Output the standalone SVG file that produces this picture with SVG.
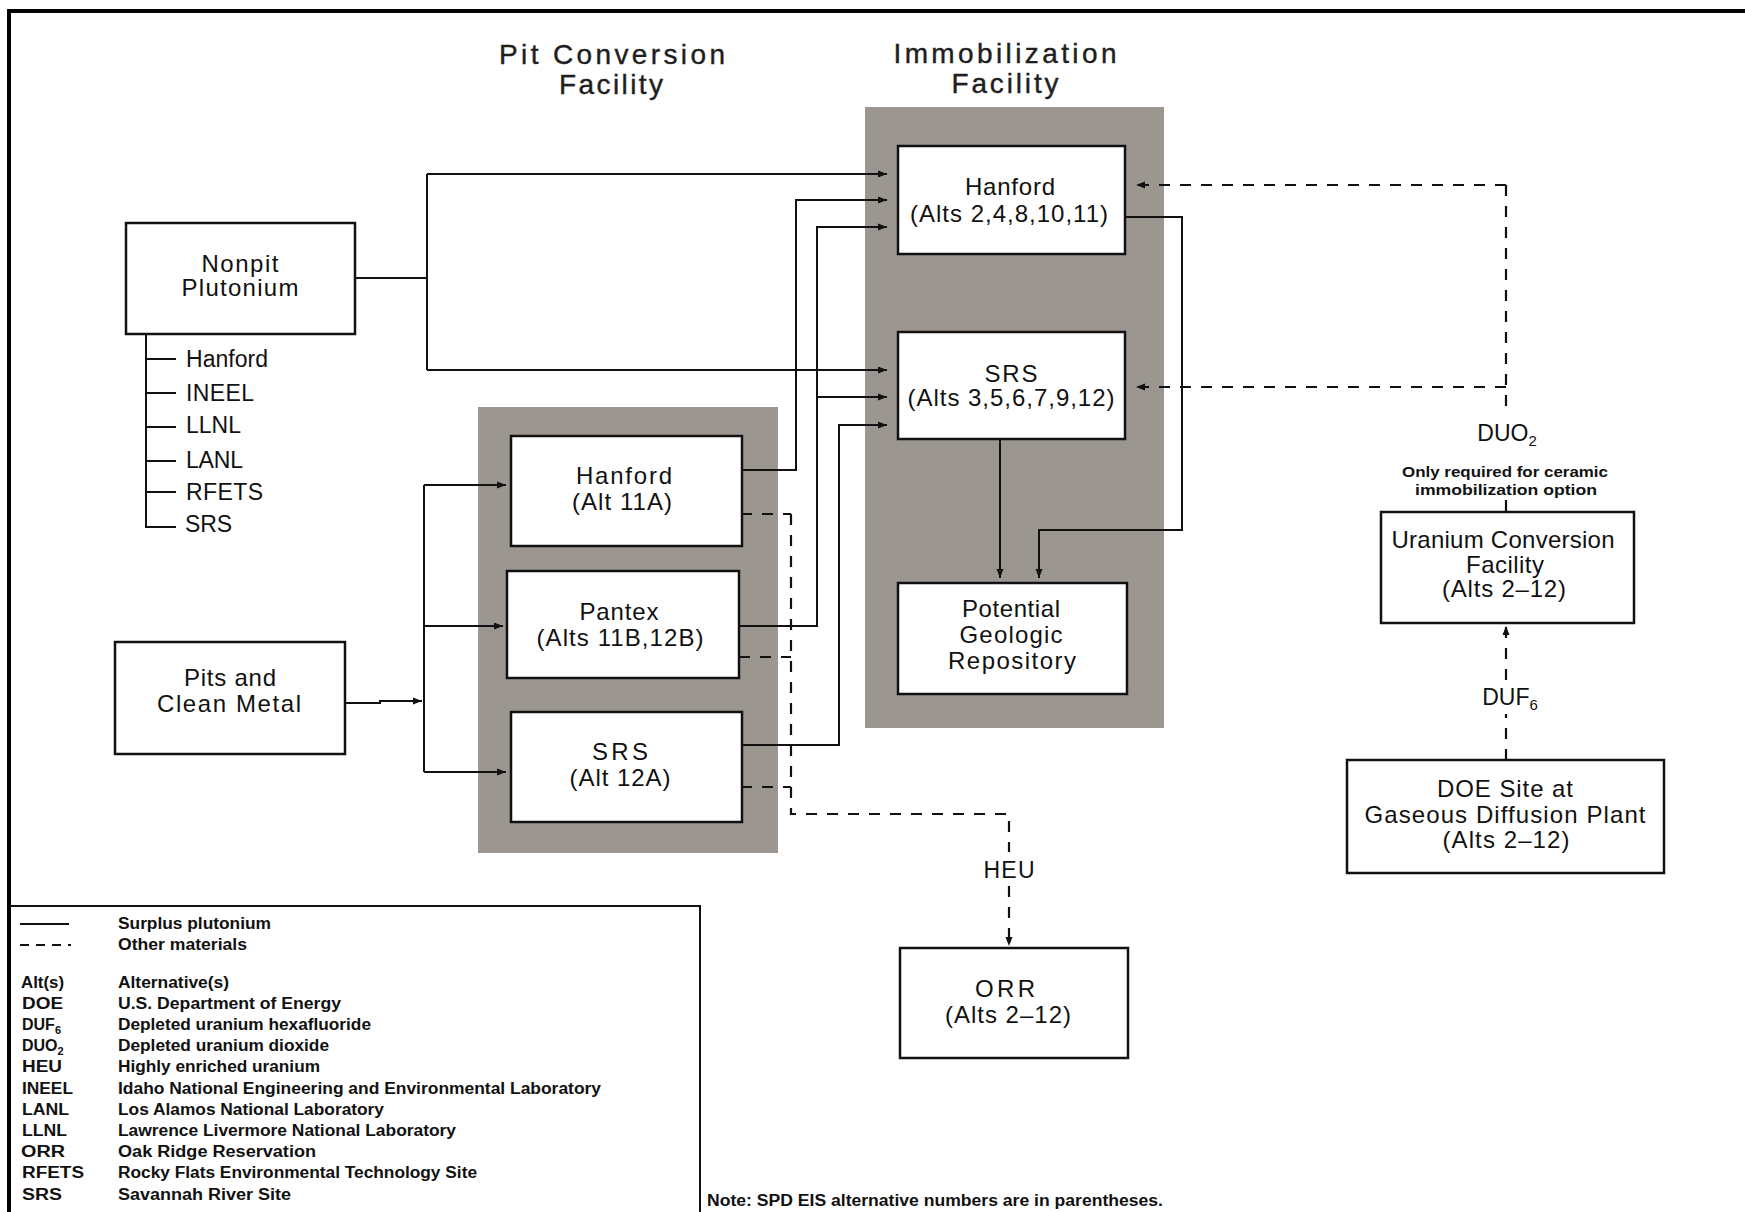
<svg xmlns="http://www.w3.org/2000/svg" width="1745" height="1212" viewBox="0 0 1745 1212">
<defs>
<marker id="ah" markerUnits="userSpaceOnUse" markerWidth="10" markerHeight="8" refX="9" refY="4" orient="auto"><path d="M0,0.5 L9,4 L0,7.5 z" fill="#111"/></marker>
</defs>
<style>
text{font-family:"Liberation Sans",Arial,sans-serif;fill:#111}
.t{font-size:24px;text-anchor:middle}
.h{font-size:28px;text-anchor:middle;fill:#1e1e1e;stroke:#1e1e1e;stroke-width:0.4}
.s{font-size:23px}
.lg{font-size:16px;font-weight:bold;fill:#111}
.box{fill:#fff;stroke:#111;stroke-width:2.5}
.bg{fill:#9b968f}
.c{fill:none;stroke:#111;stroke-width:2}
.d{fill:none;stroke:#111;stroke-width:2.2;stroke-dasharray:11 10}
.lab{font-size:23px;text-anchor:middle}
.sm{font-size:15px;text-anchor:middle;font-weight:bold}
</style>
<rect x="0" y="0" width="1745" height="1212" fill="#fff"/>
<path d="M9,1212 V11 H1745" fill="none" stroke="#000" stroke-width="4"/>

<g id="titles">
<text class="h" x="612" y="64" textLength="226">Pit Conversion</text>
<text class="h" x="611" y="94" textLength="104">Facility</text>
<text class="h" x="1005" y="63" textLength="223">Immobilization</text>
<text class="h" x="1005" y="93" textLength="107">Facility</text>
</g>

<g id="backgrounds">
<rect id="immobilization-facility" class="bg" x="865" y="107" width="299" height="621"/>
<rect id="pit-conversion-facility" class="bg" x="478" y="407" width="300" height="446"/>
</g>

<g id="connectors">
<path class="c" d="M355,278 H427 M427,174 V370"/>
<path class="c" d="M427,174 H887" marker-end="url(#ah)"/>
<path class="c" d="M427,370 H887" marker-end="url(#ah)"/>
<path class="c" d="M742,470 H796 V200 H887" marker-end="url(#ah)"/>
<path class="c" d="M739,626 H817 V227 H887" marker-end="url(#ah)"/>
<path class="c" d="M817,397 H887" marker-end="url(#ah)"/>
<path class="c" d="M742,745 H839 V425 H887" marker-end="url(#ah)"/>
<path class="c" d="M1125,217 H1182 V530 H1039 V578" marker-end="url(#ah)"/>
<path class="c" d="M1000,439 V578" marker-end="url(#ah)"/>
<path class="c" d="M345,703 H380 V701 H422" marker-end="url(#ah)"/>
<path class="c" d="M424,485 V772"/>
<path class="c" d="M424,485 H506" marker-end="url(#ah)"/>
<path class="c" d="M424,626 H503" marker-end="url(#ah)"/>
<path class="c" d="M424,772 H506" marker-end="url(#ah)"/>
<path class="d" d="M1506,185 V415"/>
<path class="d" d="M1506,185 H1136" marker-end="url(#ah)"/>
<path class="d" d="M1506,387 H1136" marker-end="url(#ah)"/>
<path class="d" d="M1506,500 V512"/>
<path class="d" d="M1506,760 V714"/>
<path class="d" d="M1506,680 V626" marker-end="url(#ah)"/>
<path class="d" d="M741,514 H791 M739,657 H791 M741,787 H791"/>
<path class="d" d="M791,514 V814 H1009 V852"/>
<path class="d" d="M1009,886 V946" marker-end="url(#ah)"/>
</g>

<g id="connector-labels">
<text class="lab" x="1507" y="441">DUO<tspan font-size="15" dy="5">2</tspan></text>
<text class="sm" x="1505" y="477" textLength="206" lengthAdjust="spacingAndGlyphs">Only required for ceramic</text>
<text class="sm" x="1506" y="495" textLength="182" lengthAdjust="spacingAndGlyphs">immobilization option</text>
<text class="lab" x="1510" y="705">DUF<tspan font-size="15" dy="5">6</tspan></text>
<text class="lab" x="1009" y="878" textLength="51">HEU</text>
</g>

<g id="nonpit-plutonium">
<rect class="box" x="126" y="223" width="229" height="111"/>
<text class="t" x="240" y="272" textLength="77">Nonpit</text>
<text class="t" x="240" y="296" textLength="117">Plutonium</text>
</g>

<g id="nonpit-sites">
<path class="c" d="M146,334 V527 H176 M146,359 H176 M146,393 H176 M146,427 H176 M146,461 H176 M146,492 H176"/>
<text class="s" x="186" y="367" textLength="82">Hanford</text>
<text class="s" x="186" y="401" textLength="68">INEEL</text>
<text class="s" x="186" y="433" textLength="55">LLNL</text>
<text class="s" x="186" y="468" textLength="57">LANL</text>
<text class="s" x="186" y="500" textLength="77">RFETS</text>
<text class="s" x="185" y="532" textLength="47">SRS</text>
</g>

<g id="pits-clean-metal">
<rect class="box" x="115" y="642" width="230" height="112"/>
<text class="t" x="230" y="686" textLength="92">Pits and</text>
<text class="t" x="229" y="712" textLength="144">Clean Metal</text>
</g>

<g id="hanford-immobilization">
<rect class="box" x="898" y="146" width="227" height="108"/>
<text class="t" x="1010" y="195" textLength="90">Hanford</text>
<text class="t" x="1009" y="222" textLength="198">(Alts 2,4,8,10,11)</text>
</g>

<g id="srs-immobilization">
<rect class="box" x="898" y="332" width="227" height="107"/>
<text class="t" x="1011" y="382" textLength="53">SRS</text>
<text class="t" x="1011" y="406" textLength="207">(Alts 3,5,6,7,9,12)</text>
</g>

<g id="geologic-repository">
<rect class="box" x="898" y="583" width="229" height="111"/>
<text class="t" x="1011" y="617" textLength="98">Potential</text>
<text class="t" x="1011" y="643" textLength="103">Geologic</text>
<text class="t" x="1012" y="669" textLength="128">Repository</text>
</g>

<g id="hanford-pit">
<rect class="box" x="511" y="436" width="231" height="110"/>
<text class="t" x="624" y="484" textLength="96">Hanford</text>
<text class="t" x="622" y="510" textLength="100">(Alt 11A)</text>
</g>

<g id="pantex-pit">
<rect class="box" x="507" y="571" width="232" height="107"/>
<text class="t" x="619" y="620" textLength="79">Pantex</text>
<text class="t" x="620" y="646" textLength="167">(Alts 11B,12B)</text>
</g>

<g id="srs-pit">
<rect class="box" x="511" y="712" width="231" height="110"/>
<text class="t" x="620" y="760" textLength="56">SRS</text>
<text class="t" x="620" y="786" textLength="101">(Alt 12A)</text>
</g>

<g id="uranium-conversion">
<rect class="box" x="1381" y="512" width="253" height="111"/>
<text class="t" x="1503" y="548" textLength="223">Uranium Conversion</text>
<text class="t" x="1505" y="573" textLength="78">Facility</text>
<text class="t" x="1504" y="597" textLength="124">(Alts 2–12)</text>
</g>

<g id="doe-site">
<rect class="box" x="1347" y="760" width="317" height="113"/>
<text class="t" x="1505" y="797" textLength="136">DOE Site at</text>
<text class="t" x="1505" y="823" textLength="281">Gaseous Diffusion Plant</text>
<text class="t" x="1506" y="848" textLength="127">(Alts 2–12)</text>
</g>

<g id="orr">
<rect class="box" x="900" y="948" width="228" height="110"/>
<text class="t" x="1005" y="997" textLength="60">ORR</text>
<text class="t" x="1008" y="1023" textLength="126">(Alts 2–12)</text>
</g>

<g id="legend">
<path d="M9,906 H700 V1212" fill="none" stroke="#111" stroke-width="2"/>
<path class="c" d="M20,924 H69"/>
<path d="M20,945 H71" fill="none" stroke="#111" stroke-width="2" stroke-dasharray="9 7"/>
<text class="lg" x="118" y="929" textLength="153" lengthAdjust="spacingAndGlyphs">Surplus plutonium</text>
<text class="lg" x="118" y="950" textLength="129" lengthAdjust="spacingAndGlyphs">Other materials</text>
<text class="lg" x="21" y="988" textLength="43" lengthAdjust="spacingAndGlyphs">Alt(s)</text>
<text class="lg" x="118" y="988" textLength="111" lengthAdjust="spacingAndGlyphs">Alternative(s)</text>
<text class="lg" x="22" y="1009" textLength="41" lengthAdjust="spacingAndGlyphs">DOE</text>
<text class="lg" x="118" y="1009" textLength="223" lengthAdjust="spacingAndGlyphs">U.S. Department of Energy</text>
<text class="lg" x="22" y="1030">DUF<tspan font-size="11" dy="4">6</tspan></text>
<text class="lg" x="118" y="1030" textLength="253" lengthAdjust="spacingAndGlyphs">Depleted uranium hexafluoride</text>
<text class="lg" x="22" y="1051">DUO<tspan font-size="11" dy="4">2</tspan></text>
<text class="lg" x="118" y="1051" textLength="211" lengthAdjust="spacingAndGlyphs">Depleted uranium dioxide</text>
<text class="lg" x="22" y="1072" textLength="40" lengthAdjust="spacingAndGlyphs">HEU</text>
<text class="lg" x="118" y="1072" textLength="202" lengthAdjust="spacingAndGlyphs">Highly enriched uranium</text>
<text class="lg" x="22" y="1094" textLength="51" lengthAdjust="spacingAndGlyphs">INEEL</text>
<text class="lg" x="118" y="1094" textLength="483" lengthAdjust="spacingAndGlyphs">Idaho National Engineering and Environmental Laboratory</text>
<text class="lg" x="22" y="1115" textLength="47" lengthAdjust="spacingAndGlyphs">LANL</text>
<text class="lg" x="118" y="1115" textLength="266" lengthAdjust="spacingAndGlyphs">Los Alamos National Laboratory</text>
<text class="lg" x="22" y="1136" textLength="45" lengthAdjust="spacingAndGlyphs">LLNL</text>
<text class="lg" x="118" y="1136" textLength="338" lengthAdjust="spacingAndGlyphs">Lawrence Livermore National Laboratory</text>
<text class="lg" x="21" y="1157" textLength="44" lengthAdjust="spacingAndGlyphs">ORR</text>
<text class="lg" x="118" y="1157" textLength="198" lengthAdjust="spacingAndGlyphs">Oak Ridge Reservation</text>
<text class="lg" x="22" y="1178" textLength="62" lengthAdjust="spacingAndGlyphs">RFETS</text>
<text class="lg" x="118" y="1178" textLength="359" lengthAdjust="spacingAndGlyphs">Rocky Flats Environmental Technology Site</text>
<text class="lg" x="22" y="1200" textLength="40" lengthAdjust="spacingAndGlyphs">SRS</text>
<text class="lg" x="118" y="1200" textLength="173" lengthAdjust="spacingAndGlyphs">Savannah River Site</text>
</g>

<g id="note">
<text class="lg" x="707" y="1206" textLength="456" lengthAdjust="spacingAndGlyphs">Note: SPD EIS alternative numbers are in parentheses.</text>
</g>
</svg>
